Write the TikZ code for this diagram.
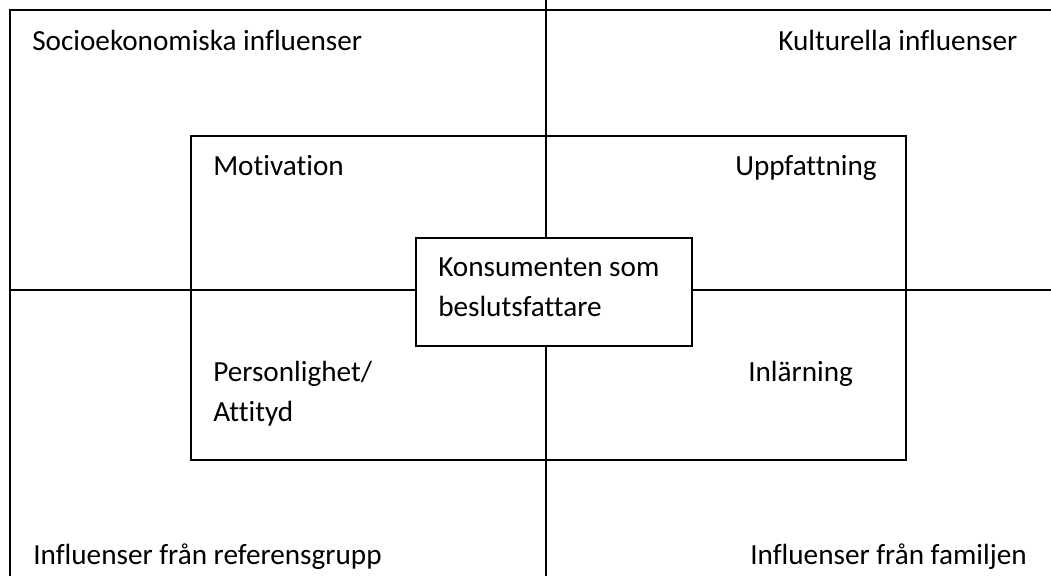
\documentclass[tikz,border=0pt]{standalone}
\usepackage{fontspec}
\setmainfont{Carlito}[Ligatures={NoCommon}]
\begin{document}
\begin{tikzpicture}[x=0.75pt,y=-0.75pt,
  frameline/.style={line width=1.3pt,black},
  lbl/.style={anchor=base west,inner sep=0pt,font=\fontsize{21.9}{30}\selectfont,text=black}]
\useasboundingbox (0,0) rectangle (1051,576);
% frame coordinates
\coordinate (tl) at (10,10);
\coordinate (tr) at (1051,10);
\coordinate (bl) at (10,576);
\coordinate (ml) at (10,290);
\coordinate (mr) at (1051,290);
\coordinate (mt) at (546,0);
\coordinate (mb) at (546,576);
\draw[frameline] (bl) -- (tl) -- (tr);
\draw[frameline] (ml) -- (mr);
\draw[frameline] (mt) -- (mb);
% inner rectangle
\coordinate (ia) at (191,136);
\coordinate (ib) at (906,460);
\draw[frameline] (ia) rectangle (ib);
% centre box
\node[draw,line width=1.3pt,fill=white,minimum width=276*0.75pt,minimum height=108*0.75pt,inner sep=0pt] (centre) at (554,292) {};
\node[lbl] (k1) at (438,276.7) {Konsumenten som};
\node[lbl] (k2) at (438,316.7) {beslutsfattare};
% outer labels
\node[lbl] (socio) at (32,50) {Socioekonomiska influenser};
\node[lbl] (kult) at (778,50) {Kulturella influenser};
\node[lbl] (ref) at (33,564) {Influenser från referensgrupp};
\node[lbl] (fam) at (750,564) {Influenser från familjen};
% inner labels
\node[lbl] (mot) at (213,175) {Motivation};
\node[lbl] (upp) at (735,175) {Uppfattning};
\node[lbl] (pers) at (213,381) {Personlighet/};
\node[lbl] (att) at (213,421) {Attityd};
\node[lbl] (inl) at (748,381) {Inlärning};
\end{tikzpicture}
\end{document}
